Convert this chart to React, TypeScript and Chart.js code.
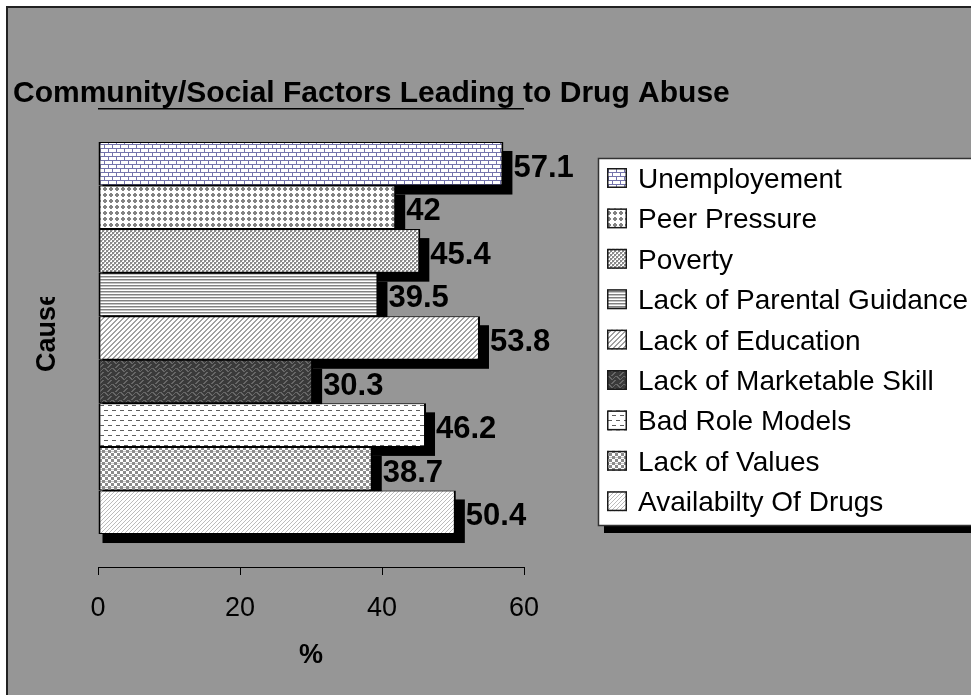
import React, { useEffect, useRef } from 'react';
import { Chart, registerables } from 'chart.js';

Chart.register(...registerables);

const causes = [
  'Unemployement',
  'Peer Pressure',
  'Poverty',
  'Lack of Parental Guidance',
  'Lack of Education',
  'Lack of Marketable Skill',
  'Bad Role Models',
  'Lack of Values',
  'Availabilty Of Drugs',
];
const percentages = [57.1, 42, 45.4, 39.5, 53.8, 30.3, 46.2, 38.7, 50.4];
const valueLabels = ['57.1', '42', '45.4', '39.5', '53.8', '30.3', '46.2', '38.7', '50.4'];
const xTicks = [0, 20, 40, 60];
const categoryLabels = [''];
const titleText = 'Community/Social Factors Leading to Drug Abuse';
const xTitle = '%';
const yTitle = 'Cause';

const FONT = "'Liberation Sans', Arial, sans-serif";
const BG = '#969696';

function tile(w: number, h: number, bg: string, draw: (c: CanvasRenderingContext2D) => void) {
  const cv = document.createElement('canvas');
  cv.width = w;
  cv.height = h;
  const c = cv.getContext('2d')!;
  c.fillStyle = bg;
  c.fillRect(0, 0, w, h);
  draw(c);
  return cv;
}

function makePatterns(ctx: CanvasRenderingContext2D): CanvasPattern[] {
  const tiles = [
    // brick
    tile(8, 8, '#ffffff', (c) => {
      c.fillStyle = '#7474ac';
      c.fillRect(0, 0, 8, 1);
      c.fillRect(0, 4, 8, 1);
      c.fillRect(0, 1, 1, 3);
      c.fillRect(4, 5, 1, 3);
    }),
    // plus dots
    tile(6, 6, '#ffffff', (c) => {
      c.fillStyle = '#838383';
      c.fillRect(2, 1, 2, 4);
      c.fillRect(1, 2, 4, 2);
    }),
    // checker
    tile(4, 4, '#ffffff', (c) => {
      c.fillStyle = '#8a8a8a';
      c.fillRect(0, 0, 2, 2);
      c.fillRect(2, 2, 2, 2);
      c.fillStyle = '#bdbdbd';
      c.fillRect(2, 0, 1, 1);
      c.fillRect(0, 2, 1, 1);
    }),
    // horizontal lines
    tile(4, 3, '#ffffff', (c) => {
      c.fillStyle = '#828282';
      c.fillRect(0, 0, 4, 1);
      c.fillStyle = '#c4c4c4';
      c.fillRect(0, 1, 4, 1);
    }),
    // diagonal /
    tile(5, 5, '#ffffff', (c) => {
      c.fillStyle = '#a2a2a2';
      for (let y = 0; y < 5; y++)
        for (let x = 0; x < 5; x++) if ((x + y) % 5 < 2) c.fillRect(x, y, 1, 1);
    }),
    // dark weave
    tile(8, 8, '#3a3a3a', (c) => {
      c.fillStyle = '#676767';
      for (let k = 0; k < 4; k++) {
        c.fillRect(k, k, 2, 1);
        c.fillRect(6 - k, k + 4, 2, 1);
        c.fillRect(k + 4, 3 - k, 1, 1);
      }
    }),
    // dashes
    tile(8, 10, '#ffffff', (c) => {
      c.fillStyle = '#5e5e5e';
      c.fillRect(0, 0, 4, 1);
      c.fillRect(4, 5, 4, 1);
    }),
    // big checker
    tile(6, 6, '#ffffff', (c) => {
      c.fillStyle = '#8c8c8c';
      c.fillRect(0, 0, 3, 3);
      c.fillRect(3, 3, 3, 3);
      c.fillStyle = '#c8c8c8';
      c.fillRect(3, 1, 3, 1);
    }),
    // light slashes
    tile(4, 4, '#ffffff', (c) => {
      c.fillStyle = '#bcbcbc';
      c.fillRect(1, 0, 1, 1);
      c.fillRect(0, 1, 1, 1);
      c.fillRect(3, 2, 1, 1);
      c.fillRect(2, 3, 1, 1);
    }),
  ];
  return tiles.map((t) => ctx.createPattern(t, 'repeat')!);
}

export default function App() {
  const ref = useRef<HTMLCanvasElement>(null);

  useEffect(() => {
    const canvas = ref.current!;
    const ctx = canvas.getContext('2d')!;
    const patterns = makePatterns(ctx);

    const framePlugin = {
      id: 'frame',
      beforeDraw(chart: any) {
        const c = chart.ctx;
        const area = chart.chartArea;
        c.save();
        c.fillStyle = '#ffffff';
        c.fillRect(0, 0, chart.width, chart.height);
        c.fillStyle = BG;
        c.fillRect(7, 7, chart.width, chart.height);
        c.strokeStyle = '#222222';
        c.lineWidth = 2;
        c.strokeRect(7, 7, chart.width + 10, chart.height + 10);
        // plot area top edge
        c.strokeStyle = '#000000';
        c.lineWidth = 1.5;
        c.beginPath();
        c.moveTo(area.left, area.top - 0.25);
        c.lineTo(area.right, area.top - 0.25);
        c.stroke();
        // title
        c.fillStyle = '#000000';
        c.font = `bold 30px ${FONT}`;
        c.textAlign = 'left';
        c.textBaseline = 'alphabetic';
        c.fillText(titleText, 13, 102);
        // x title
        c.textAlign = 'center';
        c.font = `bold 27px ${FONT}`;
        c.fillText(xTitle, (area.left + area.right) / 2, 663);
        // y title (clipped like the original)
        c.save();
        c.beginPath();
        c.rect(0, 297, area.left, 200);
        c.clip();
        c.translate(55, 372);
        c.rotate(-Math.PI / 2);
        c.textAlign = 'left';
        c.fillText(yTitle, 0, 0);
        c.restore();
        c.restore();
      },
      beforeDatasetsDraw(chart: any) {
        const c = chart.ctx;
        c.save();
        c.fillStyle = '#000000';
        chart.data.datasets.forEach((_: any, i: number) => {
          const el = chart.getDatasetMeta(i).data[0] as any;
          const top = el.y - el.height / 2;
          c.fillRect(el.base + 4, top + 9, el.x - el.base + 5, el.height);
        });
        c.restore();
      },
      afterDatasetsDraw(chart: any) {
        const c = chart.ctx;
        c.save();
        c.fillStyle = '#000000';
        c.font = `bold 31px ${FONT}`;
        c.textAlign = 'left';
        c.textBaseline = 'alphabetic';
        chart.data.datasets.forEach((_: any, i: number) => {
          const el = chart.getDatasetMeta(i).data[0] as any;
          c.fillText(valueLabels[i], el.x + 10, el.y + 13);
        });
        c.restore();
      },
      afterDraw(chart: any) {
        const c = chart.ctx;
        c.save();
        // legend box with shadow
        c.fillStyle = '#000000';
        c.fillRect(604, 165, 420, 368);
        c.fillStyle = '#ffffff';
        c.fillRect(598, 158, 420, 368);
        c.strokeStyle = '#333333';
        c.lineWidth = 1.5;
        c.strokeRect(598.5, 158.5, 420, 367);
        c.font = `28px ${FONT}`;
        c.textAlign = 'left';
        c.textBaseline = 'alphabetic';
        causes.forEach((name, i) => {
          const yc = 178 + i * 40.4;
          c.fillStyle = patterns[i];
          c.fillRect(607, yc - 10, 20, 20);
          c.strokeStyle = '#1a1a1a';
          c.lineWidth = 1.5;
          c.strokeRect(607.75, yc - 9.25, 18.5, 18.5);
          c.fillStyle = '#000000';
          c.fillText(name, 638, yc + 10);
        });
        c.restore();
      },
    };

    const chart = new Chart(canvas, {
      type: 'bar',
      data: {
        labels: categoryLabels,
        datasets: causes.map((name, i) => ({
          label: name,
          data: [percentages[i]],
          backgroundColor: patterns[i] as any,
          borderColor: '#000000',
          borderWidth: { left: 2, right: 2, top: 1, bottom: 1 } as any,
          borderSkipped: false as any,
          categoryPercentage: 0.856,
          barPercentage: 1,
        })),
      },
      options: {
        indexAxis: 'y',
        responsive: false,
        animation: false,
        devicePixelRatio: 1,
        layout: { padding: { left: 98, top: 109, right: 447, bottom: 0 } },
        plugins: {
          legend: { display: false },
          title: { display: false },
          tooltip: { enabled: false },
        },
        scales: {
          x: {
            type: 'linear',
            min: 0,
            max: 60,
            afterBuildTicks: (s: any) => {
              s.ticks = xTicks.map((v) => ({ value: v }));
            },
            ticks: {
              color: '#000000',
              font: { family: FONT, size: 27 },
              padding: 17,
              maxRotation: 0,
              autoSkip: false,
            },
            grid: {
              display: true,
              drawOnChartArea: false,
              drawTicks: true,
              tickLength: 8,
              color: '#000000',
              lineWidth: 1,
            },
            border: { display: true, color: '#000000', width: 1 },
            afterFit: (s: any) => {
              s.height = 128;
            },
          },
          y: { display: false },
        },
      },
      plugins: [framePlugin],
    });

    return () => chart.destroy();
  }, []);

  return (
    <div style={{ position: 'absolute', left: 0, top: 0, width: 971, height: 695 }}>
      <canvas ref={ref} width={971} height={695} style={{ display: 'block' }} />
    </div>
  );
}
